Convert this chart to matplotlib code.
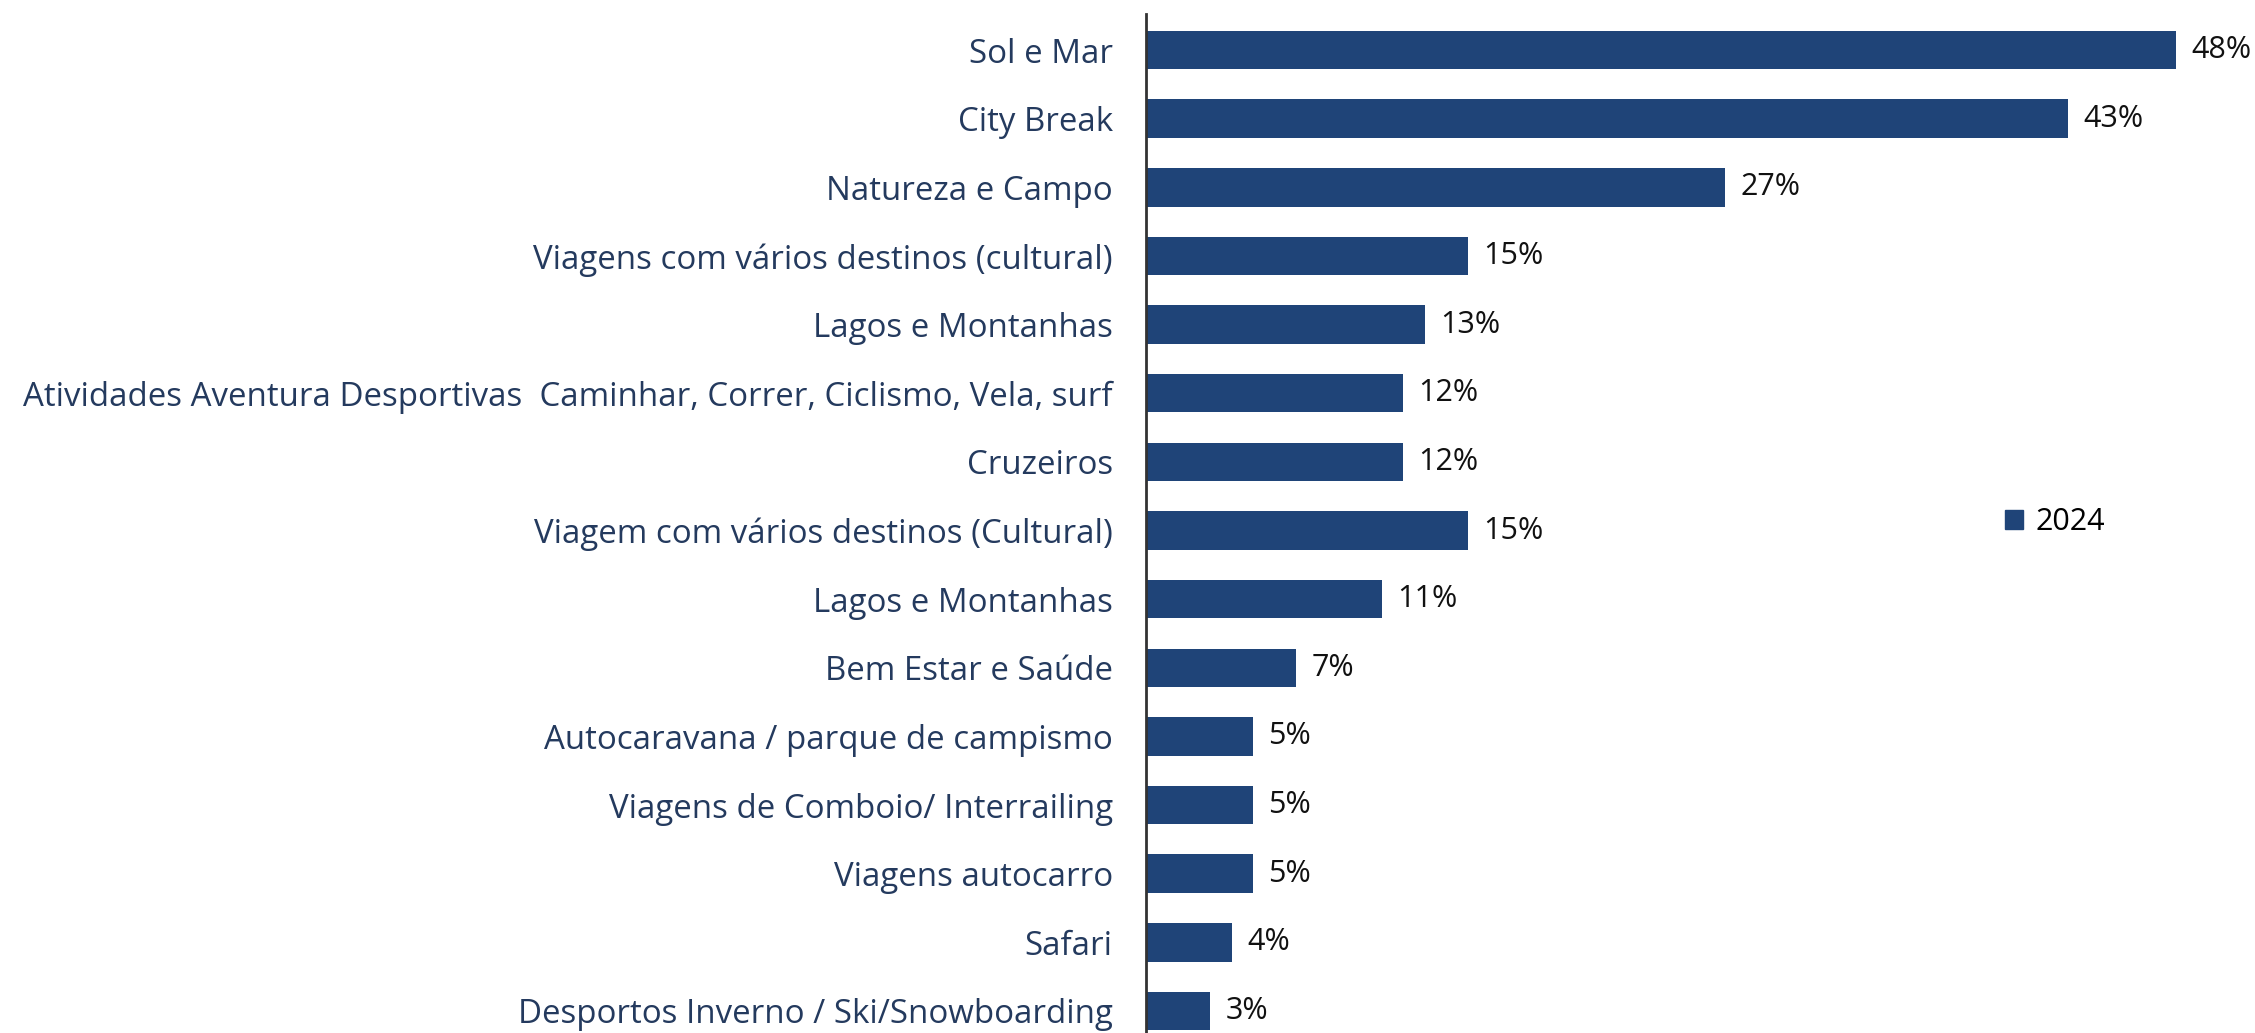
import matplotlib
matplotlib.use("Agg")
import matplotlib.pyplot as plt
from matplotlib.patches import Patch

categories = [
    "Sol e Mar",
    "City Break",
    "Natureza e Campo",
    "Viagens com vários destinos (cultural)",
    "Lagos e Montanhas",
    "Atividades Aventura Desportivas  Caminhar, Correr, Ciclismo, Vela, surf",
    "Cruzeiros",
    "Viagem com vários destinos (Cultural)",
    "Lagos e Montanhas",
    "Bem Estar e Saúde",
    "Autocaravana / parque de campismo",
    "Viagens de Comboio/ Interrailing",
    "Viagens autocarro",
    "Safari",
    "Desportos Inverno / Ski/Snowboarding",
]
values_2024 = [48, 43, 27, 15, 13, 12, 12, 15, 11, 7, 5, 5, 5, 4, 3]
series_name = "2024"

W, H = 2255, 1033
fig = plt.figure(figsize=(W / 100, H / 100), dpi=100)
ax_left = 1146
ax_top = 14
ax = fig.add_axes([ax_left / W, 0, (W - ax_left) / W, (H - ax_top) / H])

bar_color = "#1f4478"
label_color = "#243a5e"

y = list(range(len(categories)))
ax.barh(y, values_2024, height=0.56, color=bar_color)

px_per_unit = 21.45
ax.set_xlim(0, (W - ax_left) / px_per_unit)
row = 68.64
ax.set_ylim(14 + (H - 1011) / row, -(50 - ax_top) / row)

for yi, v in zip(y, values_2024):
    ax.annotate(f"{v}%", xy=(v, yi), xytext=(11, 0), textcoords="offset points",
                va="center", ha="left", fontsize=22, family="Open Sans", color="#111111")

ax.set_yticks(y)
ax.set_yticklabels(categories, fontsize=23.8, family="Open Sans", color=label_color)
ax.tick_params(axis="y", length=0, pad=24)
ax.set_xticks([])
for s in ["top", "right", "bottom"]:
    ax.spines[s].set_visible(False)
ax.spines["left"].set_color("#333333")
ax.spines["left"].set_linewidth(2)

ax.legend(handles=[Patch(color=bar_color, label=series_name)], loc="center",
          bbox_to_anchor=(2055 / W, 1 - 522 / H), bbox_transform=fig.transFigure,
          frameon=False, prop={"family": "Open Sans", "size": 22},
          handlelength=0.6, handleheight=0.6, handletextpad=0.4)

fig.savefig("out.png", dpi=100)
